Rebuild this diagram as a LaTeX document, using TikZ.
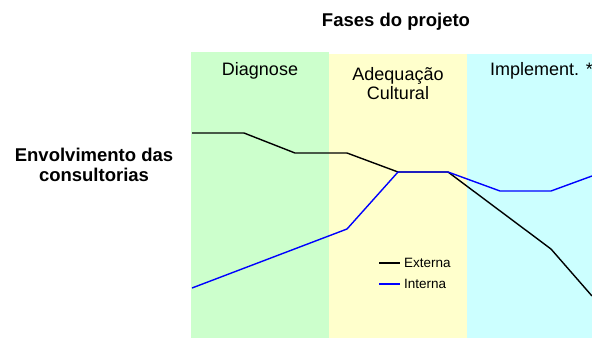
\documentclass[tikz,border=0pt]{standalone}
\usepackage{fontspec}
\setmainfont{Liberation Sans}
\definecolor{phgreen}{HTML}{CCFFCC}
\definecolor{phyellow}{HTML}{FFFFCC}
\definecolor{phcyan}{HTML}{CCFFFF}
\definecolor{intblue}{HTML}{0000FF}
\begin{document}
\begin{tikzpicture}[x=1pt,y=-1pt,
  title/.style={font=\bfseries\fontsize{18.5}{20}\selectfont,inner sep=0pt,anchor=base},
  phase/.style={font=\fontsize{18}{19}\selectfont,inner sep=0pt,anchor=base},
  legtext/.style={font=\fontsize{13.5}{15}\selectfont,anchor=west,inner sep=0pt},
  ext/.style={draw=black,line width=1.4pt,line join=round},
  int/.style={draw=intblue,line width=1.4pt,line join=round}]
\useasboundingbox (0,0) rectangle (592,338);
\fill[white] (0,0) rectangle (592,338);
% phase bands
\fill[phgreen] (191,52) rectangle (329,338);
\fill[phyellow] (329,54) rectangle (467,338);
\fill[phcyan] (467,54) rectangle (592,338);
% titles
\node[title] (fases) at (396,26.7) {Fases do projeto};
\node[title] (envol1) at (94,161.7) {Envolvimento das};
\node[title] (envol2) at (94,181.7) {consultorias};
% phase labels
\node[phase] (diag) at (260,75) {Diagnose};
\node[phase] (adeq1) at (398,80) {Adequação};
\node[phase] (adeq2) at (398,99) {Cultural};
\node[phase,anchor=base west] (impl) at (490,75) {Implement. *};
% curves
\coordinate (e1) at (192,133); \coordinate (e2) at (244,133);
\coordinate (e3) at (295,153); \coordinate (e4) at (347,153);
\coordinate (e5) at (398,172); \coordinate (e6) at (448,172);
\coordinate (e7) at (551,249); \coordinate (e8) at (592,296);
\coordinate (i1) at (192,288); \coordinate (i2) at (347,229);
\coordinate (i3) at (398,172); \coordinate (i4) at (448,172);
\coordinate (i5) at (500,191); \coordinate (i6) at (551,191);
\coordinate (i7) at (592,176);
\draw[ext] (e1) -- (e2) -- (e3) -- (e4) -- (e5) -- (e6) -- (e7) -- (e8);
\draw[int] (i1) -- (i2) -- (i3) -- (i4) -- (i5) -- (i6) -- (i7);
% legend
\coordinate (la1) at (379,263); \coordinate (la2) at (400,263);
\coordinate (lb1) at (379,284); \coordinate (lb2) at (400,284);
\draw[ext] (la1) -- (la2);
\draw[int] (lb1) -- (lb2);
\node[legtext] (lext) at (404,263) {Externa};
\node[legtext] (lint) at (404,284) {Interna};
\end{tikzpicture}
\end{document}
